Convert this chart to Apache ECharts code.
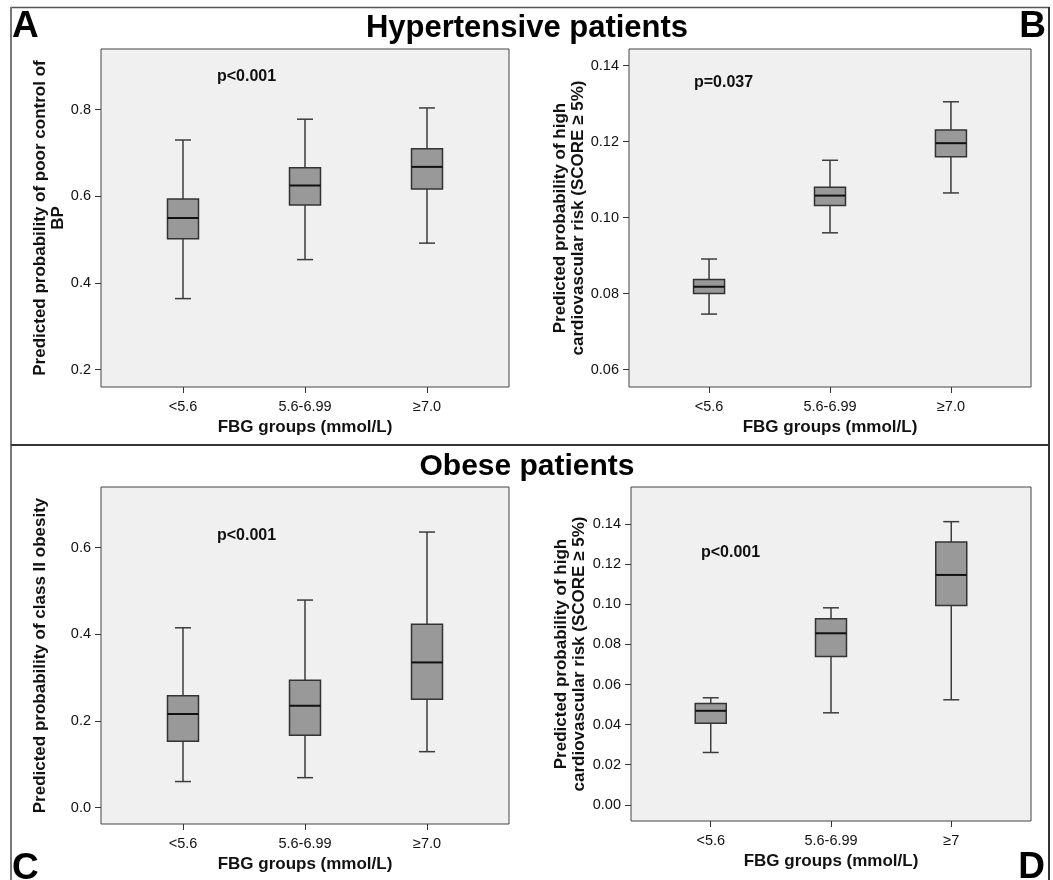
<!DOCTYPE html>
<html>
<head>
<meta charset="utf-8">
<script src="https://cdn.jsdelivr.net/npm/echarts@6/dist/echarts.min.js"></script>
<style>
html,body{margin:0;padding:0;background:#fff;}
#chart{width:1053px;height:880px;}
</style>
</head>
<body>
<div id="chart"></div>
<script>
// ---- Data (five-number summaries: [lower whisker, Q1, median, Q3, upper whisker]) ----
const categoriesABC = ['<5.6', '5.6-6.99', '≥7.0'];
const categoriesD = ['<5.6', '5.6-6.99', '≥7'];

const hypPoorBP = [
  [0.364, 0.502, 0.550, 0.594, 0.730],
  [0.454, 0.580, 0.625, 0.666, 0.778],
  [0.492, 0.617, 0.668, 0.710, 0.804]
];
const hypHighRisk = [
  [0.0746, 0.0800, 0.0818, 0.0837, 0.0891],
  [0.0960, 0.1032, 0.1058, 0.1080, 0.1151],
  [0.1065, 0.1160, 0.1196, 0.1231, 0.1305]
];
const obeClassII = [
  [0.060, 0.153, 0.216, 0.258, 0.415],
  [0.069, 0.167, 0.235, 0.294, 0.479],
  [0.129, 0.250, 0.335, 0.423, 0.636]
];
const obeHighRisk = [
  [0.0261, 0.0407, 0.0469, 0.0506, 0.0534],
  [0.0459, 0.0740, 0.0856, 0.0928, 0.0983],
  [0.0524, 0.0994, 0.1147, 0.1312, 0.1413]
];

const yTicksA = ['0.2', '0.4', '0.6', '0.8'];
const yTicksB = ['0.06', '0.08', '0.10', '0.12', '0.14'];
const yTicksC = ['0.0', '0.2', '0.4', '0.6'];
const yTicksD = ['0.00', '0.02', '0.04', '0.06', '0.08', '0.10', '0.12', '0.14'];

const pValues = ['p<0.001', 'p=0.037', 'p<0.001', 'p<0.001'];
const yNames = [
  'Predicted probability of poor control of\nBP',
  'Predicted probability of high\ncardiovascular risk (SCORE ≥ 5%)',
  'Predicted probability of class II obesity',
  'Predicted probability of high\ncardiovascular risk (SCORE ≥ 5%)'
];
const xName = 'FBG groups (mmol/L)';
const titles = ['Hypertensive patients', 'Obese patients'];
const panelLetters = ['A', 'B', 'C', 'D'];

// ---- Layout ----
const FONT = '"Liberation Sans", Arial, Helvetica, sans-serif';
const panels = [
  {grid: {left: 101, top: 49, width: 408, height: 338}, x: [-0.672, 2.672], y: [0.160, 0.940], ticks: yTicksA, cats: categoriesABC, data: hypPoorBP, nameGap: 34},
  {grid: {left: 629, top: 49, width: 402, height: 338}, x: [-0.662, 2.662], y: [0.0554, 0.1444], ticks: yTicksB, cats: categoriesABC, data: hypHighRisk, nameGap: 42},
  {grid: {left: 101, top: 487, width: 408, height: 337}, x: [-0.672, 2.672], y: [-0.038, 0.740], ticks: yTicksC, cats: categoriesABC, data: obeClassII, nameGap: 52},
  {grid: {left: 631, top: 487, width: 400, height: 334}, x: [-0.663, 2.663], y: [-0.0081, 0.1586], ticks: yTicksD, cats: categoriesD, data: obeHighRisk, nameGap: 43}
];
const pPos = [[217, 77], [694, 83], [217, 536], [701, 553]];

function renderBox(params, api) {
  const x = api.value(0);
  const lo = api.coord([x, api.value(1)]);
  const q1 = api.coord([x, api.value(2)]);
  const md = api.coord([x, api.value(3)]);
  const q3 = api.coord([x, api.value(4)]);
  const hi = api.coord([x, api.value(5)]);
  const cx = lo[0];
  const bw = 31, cw = 16;
  const wStyle = {stroke: '#3c3c3c', lineWidth: 1.5};
  return {
    type: 'group',
    children: [
      {type: 'line', shape: {x1: cx, y1: hi[1], x2: cx, y2: q3[1]}, style: wStyle},
      {type: 'line', shape: {x1: cx, y1: q1[1], x2: cx, y2: lo[1]}, style: wStyle},
      {type: 'line', shape: {x1: cx - cw / 2, y1: hi[1], x2: cx + cw / 2, y2: hi[1]}, style: wStyle},
      {type: 'line', shape: {x1: cx - cw / 2, y1: lo[1], x2: cx + cw / 2, y2: lo[1]}, style: wStyle},
      {type: 'rect', shape: {x: cx - bw / 2, y: q3[1], width: bw, height: q1[1] - q3[1]}, style: {fill: '#999999', stroke: '#333333', lineWidth: 1.5}},
      {type: 'line', shape: {x1: cx - bw / 2, y1: md[1], x2: cx + bw / 2, y2: md[1]}, style: {stroke: '#111111', lineWidth: 2}}
    ]
  };
}

const grids = [], xAxes = [], yAxes = [], series = [];
panels.forEach((p, i) => {
  grids.push(Object.assign({show: true, backgroundColor: '#f0f0f0', borderColor: '#444', borderWidth: 1}, p.grid));
  xAxes.push({
    type: 'value', gridIndex: i, min: p.x[0], max: p.x[1], position: 'bottom',
    axisLine: {show: false, onZero: false},
    splitLine: {show: false},
    axisTick: {show: true, length: 6, customValues: [0, 1, 2], lineStyle: {color: '#333', width: 1}},
    axisLabel: {customValues: [0, 1, 2], formatter: v => p.cats[Math.round(v)], color: '#111', fontSize: 14.5, fontFamily: FONT, margin: 12},
    name: xName, nameLocation: 'middle', nameGap: 32,
    nameTextStyle: {fontSize: 17, fontWeight: 'bold', color: '#111', fontFamily: FONT}
  });
  yAxes.push({
    type: 'value', gridIndex: i, min: p.y[0], max: p.y[1], position: 'left',
    axisLine: {show: false, onZero: false},
    splitLine: {show: false},
    axisTick: {show: true, length: 6, customValues: p.ticks.map(Number), lineStyle: {color: '#333', width: 1}},
    axisLabel: {customValues: p.ticks.map(Number), formatter: v => p.ticks.find(t => Math.abs(Number(t) - v) < 1e-9) || '', color: '#111', fontSize: 14.5, fontFamily: FONT, margin: 10},
    name: yNames[i], nameLocation: 'middle', nameGap: p.nameGap,
    nameTextStyle: {fontSize: 17, fontWeight: 'bold', color: '#111', fontFamily: FONT, lineHeight: 18}
  });
  series.push({
    type: 'custom', xAxisIndex: i, yAxisIndex: i,
    renderItem: renderBox,
    encode: {x: 0, y: [1, 2, 3, 4, 5]},
    data: p.data.map((d, k) => [k].concat(d)),
    silent: true
  });
});

const textStyle = (s, size) => ({text: s, fill: '#000', font: 'bold ' + size + 'px ' + FONT});
const graphic = [
  {type: 'line', shape: {x1: 11, y1: 7.5, x2: 1049, y2: 7.5}, style: {stroke: '#555', lineWidth: 1.5}},
  {type: 'line', shape: {x1: 11, y1: 7, x2: 11, y2: 880}, style: {stroke: '#777', lineWidth: 2}},
  {type: 'line', shape: {x1: 1049, y1: 7, x2: 1049, y2: 880}, style: {stroke: '#333', lineWidth: 2}},
  {type: 'line', shape: {x1: 11, y1: 445, x2: 1049, y2: 445}, style: {stroke: '#333', lineWidth: 2}},
  {type: 'text', x: 527, y: 28, style: Object.assign(textStyle(titles[0], 31), {align: 'center', verticalAlign: 'middle'})},
  {type: 'text', x: 527, y: 467, style: Object.assign(textStyle(titles[1], 30), {align: 'center', verticalAlign: 'middle'})},
  {type: 'text', x: 12, y: 27, style: Object.assign(textStyle(panelLetters[0], 37), {align: 'left', verticalAlign: 'middle'})},
  {type: 'text', x: 1046, y: 27, style: Object.assign(textStyle(panelLetters[1], 37), {align: 'right', verticalAlign: 'middle'})},
  {type: 'text', x: 12, y: 869, style: Object.assign(textStyle(panelLetters[2], 37), {align: 'left', verticalAlign: 'middle'})},
  {type: 'text', x: 1045, y: 868, style: Object.assign(textStyle(panelLetters[3], 37), {align: 'right', verticalAlign: 'middle'})}
];
pValues.forEach((t, i) => {
  graphic.push({type: 'text', x: pPos[i][0], y: pPos[i][1], style: Object.assign(textStyle(t, 16), {align: 'left', verticalAlign: 'middle', fill: '#111'})});
});

const chart = echarts.init(document.getElementById('chart'), null, {renderer: 'canvas'});
chart.setOption({
  animation: false,
  backgroundColor: '#ffffff',
  grid: grids,
  xAxis: xAxes,
  yAxis: yAxes,
  series: series,
  graphic: graphic
});
</script>
</body>
</html>
